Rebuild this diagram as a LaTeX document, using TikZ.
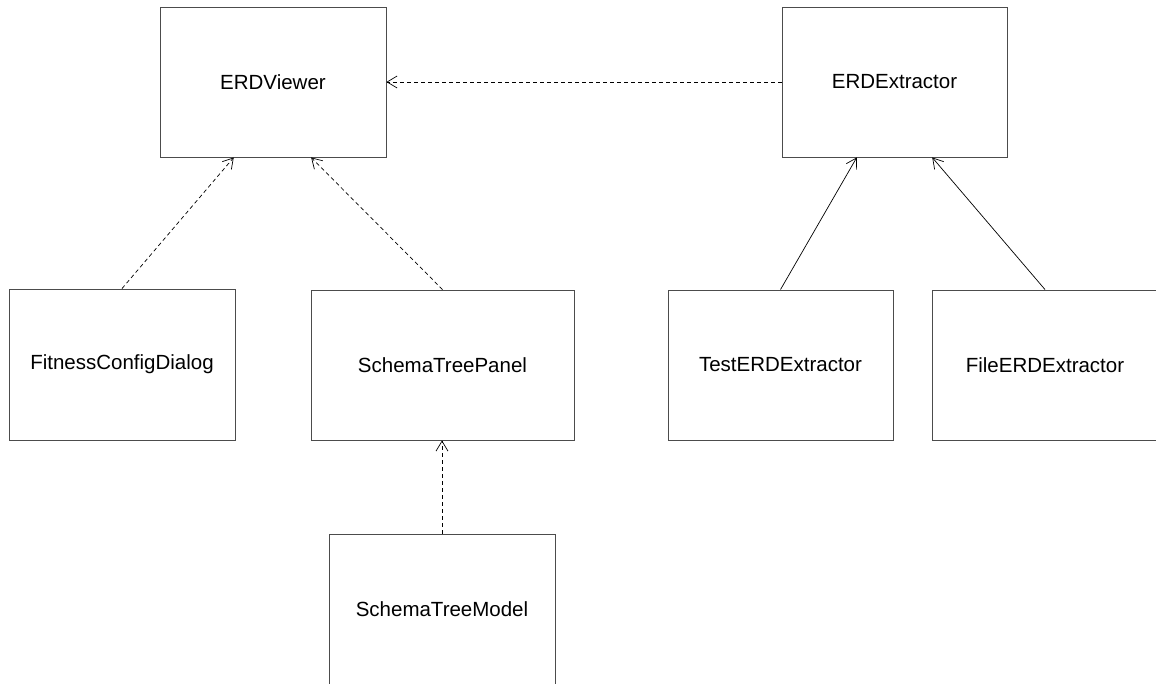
\documentclass[tikz,border=0pt]{standalone}
\usepackage{fontspec}
\setmainfont{Liberation Sans}
\usetikzlibrary{arrows.meta,calc}
\begin{document}
\begin{tikzpicture}[x=1pt,y=-1pt,
  classbox/.style={draw=black!70, line width=0.9pt, fill=white, inner sep=0pt,
    font=\fontsize{20.5}{24}\selectfont},
  uses/.style={draw=black, line width=0.7pt, dash pattern=on 4pt off 3pt,
    -{Straight Barb[length=10pt,width=12pt,line width=0.7pt]}},
  extends/.style={draw=black, line width=0.7pt,
    -{Straight Barb[length=10pt,width=12pt,line width=0.7pt]}}]
  \useasboundingbox (0,0) rectangle (1156,683);

  % classes
  \node[classbox, minimum width=226pt, minimum height=150pt] (viewer) at (273,82) {ERDViewer};
  \node[classbox, minimum width=225pt, minimum height=150pt] (extractor) at (894.5,82) {ERDExtractor};
  \node[classbox, minimum width=226pt, minimum height=151pt] (fitness) at (122,364.5) {FitnessConfigDialog};
  \node[classbox, minimum width=263pt, minimum height=150pt] (panel) at (442.5,365) {SchemaTreePanel};
  \node[classbox, minimum width=225pt, minimum height=150pt] (test) at (780.5,365) {TestERDExtractor};
  \node[classbox, minimum width=226pt, minimum height=150pt] (file) at (1045,365) {FileERDExtractor};
  \node[classbox, minimum width=226pt, minimum height=150pt] (model) at (442,609) {SchemaTreeModel};

  % dependencies
  \draw[uses] (extractor.west) -- (viewer.east);
  \draw[uses] (fitness.north) -- ($(viewer.south west)!0.327!(viewer.south east)$);
  \draw[uses] (panel.north) -- ($(viewer.south west)!0.668!(viewer.south east)$);
  \draw[uses] (model.north) -- (panel.south -| model.north);

  % implementations
  \draw[extends] (test.north) -- ($(extractor.south west)!0.333!(extractor.south east)$);
  \draw[extends] (file.north) -- ($(extractor.south west)!0.667!(extractor.south east)$);
\end{tikzpicture}
\end{document}
